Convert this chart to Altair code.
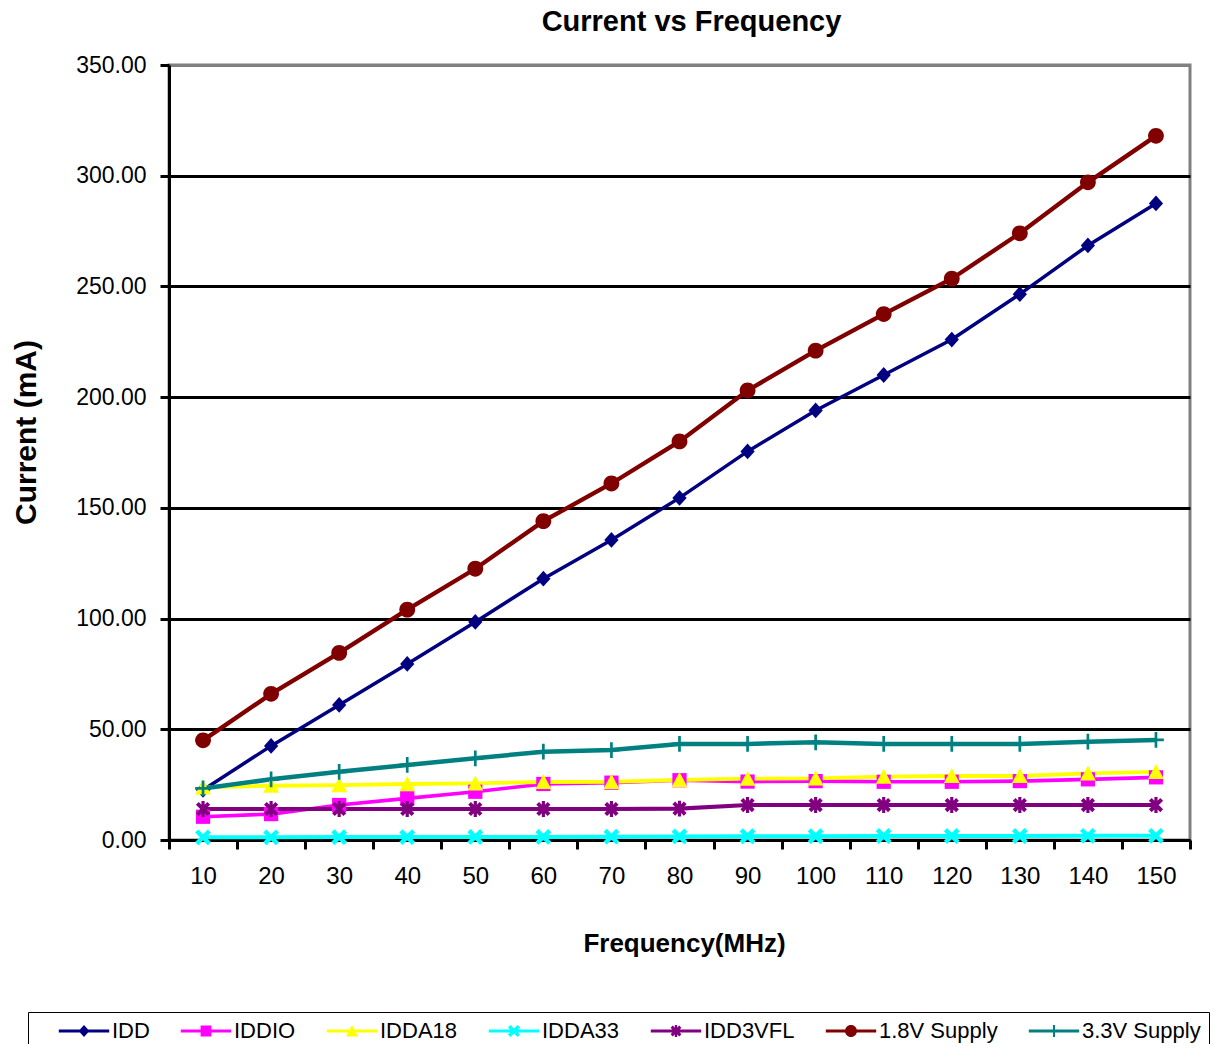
import altair as alt
import pandas as pd

FONT = "Liberation Sans, Arial, Helvetica, sans-serif"

freq = [10, 20, 30, 40, 50, 60, 70, 80, 90, 100, 110, 120, 130, 140, 150]
series_names = ["IDD", "IDDIO", "IDDA18", "IDDA33", "IDD3VFL", "1.8V Supply", "3.3V Supply"]

idd = [22.6, 42.5, 61.0, 79.5, 98.5, 118.0, 135.5, 154.5, 175.5, 194.0, 210.0, 226.0, 246.5, 268.5, 287.5]
iddio = [10.5, 11.7, 15.8, 18.8, 21.8, 25.3, 25.9, 27.0, 26.4, 26.6, 26.3, 26.3, 26.6, 27.4, 28.3]
idda18 = [23.8, 24.5, 24.8, 25.3, 25.6, 26.2, 26.3, 27.1, 27.7, 27.8, 28.6, 28.9, 28.9, 30.1, 30.8]
idda33 = [1.2, 1.2, 1.3, 1.3, 1.4, 1.4, 1.5, 1.6, 1.7, 1.7, 1.8, 1.8, 1.8, 1.9, 1.9]
idd3vfl = [14.0, 14.0, 14.0, 14.0, 14.0, 14.0, 14.0, 14.2, 15.8, 15.8, 15.8, 15.8, 15.8, 15.8, 15.8]
supply18 = [45.0, 66.0, 84.5, 104.0, 122.5, 144.0, 161.0, 180.0, 203.0, 221.0, 237.5, 253.5, 274.0, 297.0, 318.0]
supply33 = [23.3, 27.4, 30.8, 33.9, 36.9, 39.9, 40.6, 43.4, 43.4, 44.1, 43.4, 43.4, 43.4, 44.4, 45.2]

y_ticks = [0, 50, 100, 150, 200, 250, 300, 350]

colors = ["#000080", "#FF00FF", "#FFFF00", "#00FFFF", "#800080", "#800000", "#008080"]
line_widths = [3.5, 4.5, 5, 4.5, 4.5, 3.5, 4]

# marker shapes (unit box -1..1)
DIAMOND = "M0,-1L0.9,0L0,1L-0.9,0Z"
SQUARE = "M-0.9,-0.9H0.9V0.9H-0.9Z"
TRIANGLE = "M0,-1L1,0.9H-1Z"
XCROSS = "M-1,-0.6L-0.6,-1L1,0.6L0.6,1Z M-1,0.6L0.6,-1L1,-0.6L-0.6,1Z"
ASTER = ("M-0.9,-0.55L-0.55,-0.9L0.9,0.55L0.55,0.9Z M-0.9,0.55L0.55,-0.9L0.9,-0.55L-0.55,0.9Z "
         "M-0.2,-1H0.2V1H-0.2Z")
CIRCLE = "M-1,0A1,1 0 1,1 1,0A1,1 0 1,1 -1,0Z"
PLUS = "M-0.17,-1H0.17V1H-0.17Z M-1,-0.17H1V0.17H-1Z"
markers = [DIAMOND, SQUARE, TRIANGLE, XCROSS, ASTER, CIRCLE, PLUS]
LEG_LINE = "M-4.2,-0.25H4.2V0.25H-4.2Z "
legend_markers = [LEG_LINE + m for m in markers]

rows = []
for name, vals in zip(series_names, [idd, iddio, idda18, idda33, idd3vfl, supply18, supply33]):
    for f, v in zip(freq, vals):
        rows.append({"freq": f, "current": v, "series": name})
df = pd.DataFrame(rows)

x_enc = alt.X(
    "freq:O",
    scale=alt.Scale(type="band", paddingInner=0, paddingOuter=0),
    axis=alt.Axis(
        title="Frequency(MHz)",
        tickBand="extent",
        labelAngle=0,
        labelFontSize=24,
        labelPadding=15,
        tickSize=9,
        grid=False,
        titleFontSize=26,
        titleFontWeight="bold",
        titleX=515,
        titleY=103,
        titleBaseline="middle",
        titleAlign="center",
    ),
)
y_enc = alt.Y(
    "current:Q",
    scale=alt.Scale(domain=[0, 350], nice=False),
    axis=alt.Axis(
        title="Current (mA)",
        values=y_ticks,
        format=".2f",
        labelFontSize=23,
        labelPadding=14,
        tickSize=9,
        grid=True,
        gridColor={"condition": {"test": "datum.value >= 350", "value": "#808080"}, "value": "black"},
        gridWidth=3,
        titleFontSize=30,
        titleFontWeight="bold",
        titleX=-143,
        titleY=367,
        titleAngle=270,
        titleBaseline="middle",
        titleAlign="center",
    ),
)

color_scale = alt.Scale(domain=series_names, range=colors)

lines = alt.Chart(df).mark_line().encode(
    x=x_enc,
    y=y_enc,
    color=alt.Color("series:N", scale=color_scale, legend=None),
    strokeWidth=alt.StrokeWidth("series:N", scale=alt.Scale(domain=series_names, range=line_widths), legend=None),
)

points = alt.Chart(df).mark_point(filled=True, opacity=1, size=250).encode(
    x=x_enc,
    y=y_enc,
    color=alt.Color("series:N", scale=color_scale, legend=None),
    shape=alt.Shape("series:N", scale=alt.Scale(domain=series_names, range=markers), legend=None),
)

leg_props = dict(
    orient="none",
    legendX=-141,
    legendY=947,
    direction="horizontal",
    title=None,
    symbolSize=144,
    symbolStrokeWidth=0,
    symbolOpacity=1,
    symbolOffset=37,
    labelFont=FONT,
    labelFontSize=22,
    labelColor="black",
    labelOffset=17,
    columnPadding=8,
    padding=8,
    strokeColor="black",
    fillColor="white",
)

legend_layer = alt.Chart(df).mark_point(filled=True, opacity=0, size=144).encode(
    x=x_enc,
    y=y_enc,
    color=alt.Color("series:N", scale=alt.Scale(domain=series_names, range=colors), legend=alt.Legend(**leg_props)),
    shape=alt.Shape("series:N", scale=alt.Scale(domain=series_names, range=legend_markers), legend=alt.Legend(**leg_props)),
)

chart = (
    alt.layer(lines, points, legend_layer)
    .resolve_scale(color="independent", shape="independent")
    .resolve_legend(color="independent", shape="independent")
    .properties(
        width=1021,
        height=775,
        autosize=alt.AutoSizeParams(type="none"),
        padding={"left": 161, "top": 57, "right": 27, "bottom": 204},
        title=alt.TitleParams(
            "Current vs Frequency",
            font=FONT,
            fontSize=29,
            fontWeight="bold",
            anchor="middle",
            baseline="top",
            offset=17,
            dx=12,
            color="black",
        ),
    )
    .configure(font=FONT, background="white")
    .configure_view(stroke="#808080", strokeWidth=3)
    .configure_axis(
        labelFont=FONT,
        titleFont=FONT,
        labelColor="black",
        titleColor="black",
        domainColor="black",
        domainWidth=3,
        tickColor="black",
        tickWidth=3,
    )
)

chart.save("out.html", embed_options={"renderer": "svg", "actions": False})
